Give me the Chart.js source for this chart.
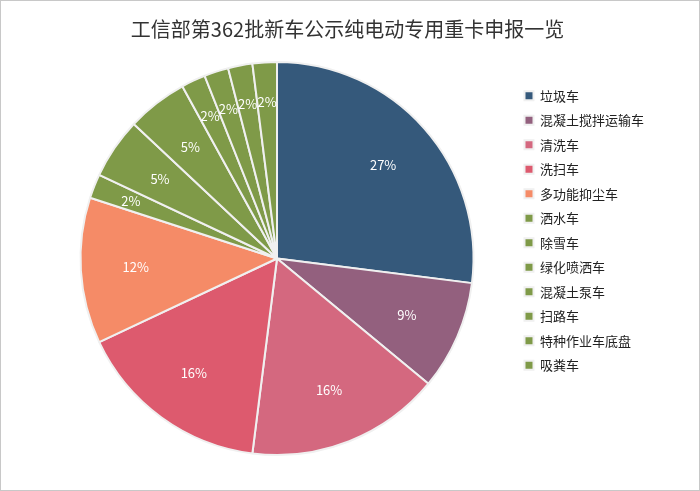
<!DOCTYPE html>
<html><head><meta charset="utf-8">
<script src="https://cdn.jsdelivr.net/npm/chart.js@4"></script>
<style>html,body{margin:0;padding:0;background:#fff}#w{width:698px;height:489px;border:1px solid #c8c8c8;position:relative}</style>
</head><body><div id="w"><canvas id="c"></canvas></div>
<script>
const categories=["垃圾车","混凝土搅拌运输车","清洗车","洗扫车","多功能抑尘车","洒水车","除雪车","绿化喷洒车","混凝土泵车","扫路车","特种作业车底盘","吸粪车"];
const values=[27,9,16,16,12,2,5,5,2,2,2,2];
const colors=["#35597b","#93607e","#d4687f","#dd5a6e","#f58b67","#7f9a48","#7f9a48","#7f9a48","#7f9a48","#7f9a48","#7f9a48","#7f9a48"];
const labelPlugin={id:'lbl',afterDatasetsDraw(ch){const ctx=ch.ctx;const meta=ch.getDatasetMeta(0);ctx.save();ctx.font='13px "Noto Sans CJK SC", sans-serif';ctx.textAlign='center';ctx.textBaseline='middle';
meta.data.forEach((a,i)=>{const ang=(a.startAngle+a.endAngle)/2;const r=a.outerRadius*(values[i]<=2?0.8:0.72);
ctx.fillStyle='#fff';ctx.fillText(values[i]+'%',a.x+Math.cos(ang)*r,a.y+Math.sin(ang)*r);});ctx.restore();}};
new Chart(document.getElementById('c'),{type:'pie',data:{labels:categories,datasets:[{data:values,backgroundColor:colors,borderColor:'#f0f0f0',borderWidth:2}]},
options:{responsive:true,maintainAspectRatio:false,animation:false,layout:{padding:{left:40,right:45,top:4,bottom:34}},
plugins:{tooltip:{enabled:false},title:{display:true,text:'工信部第362批新车公示纯电动专用重卡申报一览',color:'#333',font:{size:20,family:'"Noto Sans CJK SC", sans-serif',weight:'normal'},padding:{top:12,bottom:20}},
legend:{position:'right',labels:{boxWidth:9,boxHeight:9,padding:11.5,color:'#222',font:{size:13,family:'"Noto Sans CJK SC", sans-serif'}}}}},plugins:[labelPlugin]});
</script></body></html>
